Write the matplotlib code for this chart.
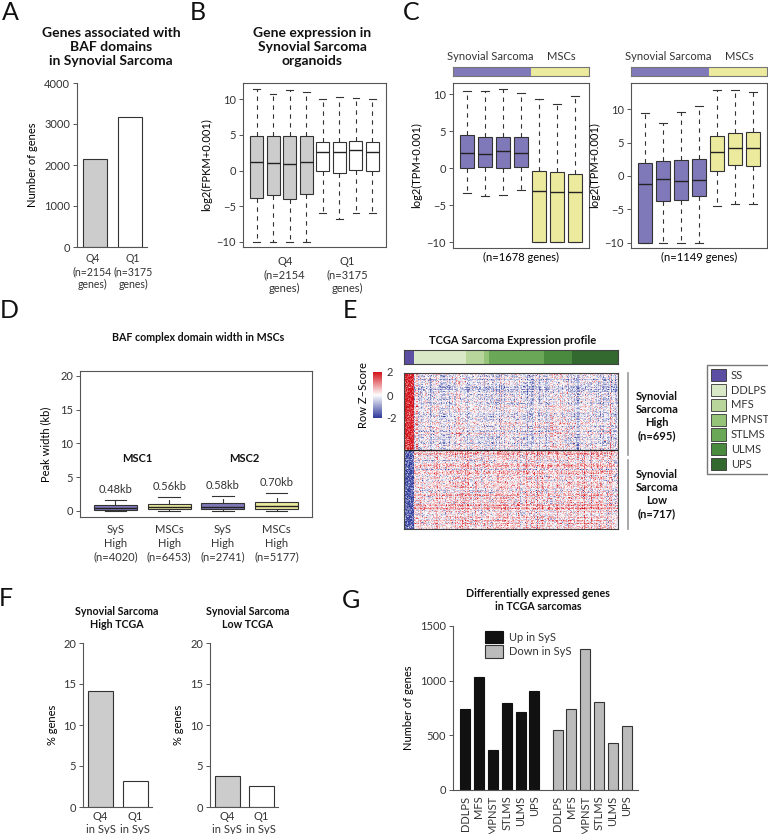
import numpy as np
import matplotlib
matplotlib.use("Agg")
import matplotlib.pyplot as plt
from matplotlib.colors import LinearSegmentedColormap, ListedColormap
from matplotlib.patches import Patch

plt.rcParams['font.family'] = ['Lato', 'DejaVu Sans']
plt.rcParams['text.color'] = '#333333'
plt.rcParams['axes.edgecolor'] = '#555555'
plt.rcParams['xtick.color'] = '#555555'
plt.rcParams['ytick.color'] = '#555555'
plt.rcParams['xtick.labelcolor'] = '#333333'
plt.rcParams['ytick.labelcolor'] = '#333333'
plt.rcParams['xtick.labelsize'] = 8
plt.rcParams['ytick.labelsize'] = 8
plt.rcParams['axes.linewidth'] = 0.8

W, H = 768, 834
FS = 8       # normal text
FT = 10      # big bold titles
FT2 = 7.7    # small bold titles

# ---- data ----
# A
a_labels = ["Q4\n(n=2154\ngenes)", "Q1\n(n=3175\ngenes)"]
a_counts = [2154, 3175]

# B (boxplot stats, 4 Q4 + 4 Q1 organoid samples)
b_whislo = [-10, -10, -10, -10, -6.0, -6.8, -5.9, -5.9]
b_q1 = [-3.9, -3.45, -4.0, -3.3, -0.05, -0.3, 0.1, -0.05]
b_med = [1.15, 1.05, 0.95, 1.15, 2.65, 2.65, 2.85, 2.65]
b_q3 = [4.85, 4.85, 4.85, 4.85, 3.95, 4.05, 4.15, 3.95]
b_whishi = [11.4, 10.75, 11.3, 11.05, 10.0, 10.35, 10.15, 10.0]

# C left (n=1678 genes)
c1_whislo = [-3.3, -3.75, -3.6, -2.95, -10, -10, -10]
c1_q1 = [0.0, 0.15, 0.0, 0.15, -10, -10, -10]
c1_med = [2.05, 1.95, 2.3, 2.05, -3.0, -3.25, -3.25]
c1_q3 = [4.45, 4.3, 4.3, 4.3, -0.4, -0.5, -0.7]
c1_whishi = [10.5, 10.5, 10.7, 10.2, 9.45, 8.75, 9.8]

# C right (n=1149 genes)
c2_whislo = [-10, -10, -10, -10, -4.5, -4.2, -4.2]
c2_q1 = [-10, -3.75, -3.65, -3.0, 0.75, 1.7, 1.55]
c2_med = [-1.25, -0.4, -0.8, -0.6, 3.55, 4.15, 4.15]
c2_q3 = [1.9, 2.2, 2.35, 2.5, 5.95, 6.4, 6.6]
c2_whishi = [9.5, 7.9, 9.65, 10.5, 12.9, 12.9, 12.55]
c_groups = ["Synovial Sarcoma", "MSCs"]
c_group_sizes = [4, 3]

# D
d_labels = ["SyS\nHigh\n(n=4020)", "MSCs\nHigh\n(n=6453)", "SyS\nHigh\n(n=2741)", "MSCs\nHigh\n(n=5177)"]
d_whislo = [0.02, 0.02, 0.02, 0.02]
d_q1 = [0.22, 0.25, 0.25, 0.25]
d_med = [0.48, 0.56, 0.58, 0.70]
d_q3 = [0.9, 1.1, 1.15, 1.4]
d_whishi = [1.6, 2.1, 2.2, 2.7]
d_msc = ["MSC1", "MSC2"]

# E
e_types = ["SS", "DDLPS", "MFS", "MPNST", "STLMS", "ULMS", "UPS"]
e_samples = [10, 50, 17, 5, 53, 27, 44]
e_colors = ["#5b4ea3", "#d9e8c6", "#b8d69c", "#95c378", "#6aa858", "#4a8a3f", "#33692e"]
e_rows = [695, 717]          # genes SyS High / SyS Low
e_ss_mean = [1.8, -1.6]      # row z-score of SS columns in each block
e_other_mean = [-0.25, 0.3]  # row z-score of the other sarcomas

# F
f_labels = ["Q4\nin SyS", "Q1\nin SyS"]
f_high = [14.15, 3.2]
f_low = [3.77, 2.56]

# G
g_types = ["DDLPS", "MFS", "MPNST", "STLMS", "ULMS", "UPS"]
g_up = [738, 1030, 363, 799, 713, 908]
g_down = [546, 738, 1287, 802, 430, 582]

purple = "#8079b9"
yellow = "#ecea9c"
grey = "#cccccc"
edge = "#333333"

fig = plt.figure(figsize=(W / 100, H / 100), dpi=100)


def pos(l, t, r, b):
    return [l / W, 1 - b / H, (r - l) / W, (b - t) / H]


def ftext(x, y, s, **kw):
    kw.setdefault("ha", "center")
    kw.setdefault("va", "center")
    fig.text(x / W, 1 - y / H, s, **kw)


def boxes(ax, lo, q1, med, q3, hi, colors):
    st = [dict(whislo=a, q1=b, med=c, q3=d, whishi=e, fliers=[])
          for a, b, c, d, e in zip(lo, q1, med, q3, hi)]
    n = len(st)
    art = ax.bxp(st, positions=np.arange(1, n + 1), widths=0.8, patch_artist=True,
                 showfliers=False, capwidths=0.4,
                 boxprops=dict(edgecolor=edge, linewidth=0.8),
                 medianprops=dict(color="#222222", linewidth=1.0),
                 whiskerprops=dict(color=edge, linewidth=0.8, linestyle=(0, (4, 4))),
                 capprops=dict(color=edge, linewidth=0.8))
    for p, c in zip(art["boxes"], colors):
        p.set_facecolor(c)
    ax.set_xlim(0.5 - 0.04 * n, n + 0.5 + 0.04 * n)
    ax.set_xticks([])
    ax.tick_params(axis="y", length=3, width=0.7, pad=2)


# panel letters
for letter, x, y in [("A", 10, 13), ("B", 198, 13), ("C", 411, 13), ("D", 9, 310),
                     ("E", 350, 310), ("F", 6, 599), ("G", 351, 600)]:
    ftext(x, y, letter, fontsize=18, color="#111111")

# ---- A ----
ax = fig.add_axes(pos(77, 83, 147, 247))
ax.bar([0, 1], a_counts, width=0.686, color=[grey, "white"], edgecolor=edge, linewidth=0.8)
ax.set_xlim(-0.514, 1.486)
ax.set_ylim(0, 4000)
ax.set_yticks([0, 1000, 2000, 3000, 4000])
ax.set_xticks([-0.07, 1.09])
ax.set_xticklabels(a_labels, fontsize=7.6, linespacing=1.25)
ax.tick_params(axis="x", length=0, pad=4)
ax.tick_params(axis="y", length=3, width=0.7, pad=2)
for s in ["top", "right"]:
    ax.spines[s].set_visible(False)
ax.set_ylabel("Number of genes", fontsize=FS, labelpad=4)
ftext(111, 47, "Genes associated with\nBAF domains\nin Synovial Sarcoma", fontsize=FT,
      fontweight="bold", color="#111111", linespacing=1.2)

# ---- B ----
ax = fig.add_axes(pos(243, 83, 386, 247))
boxes(ax, b_whislo, b_q1, b_med, b_q3, b_whishi, [grey] * 4 + ["white"] * 4)
ax.set_ylim(-10.7, 12.24)
ax.set_yticks([-10, -5, 0, 5, 10])
ax.set_ylabel("log2(FPKM+0.001)", fontsize=FS, labelpad=3)
ax.text(2.7, -12.0, "Q4\n(n=2154\ngenes)", ha="center", va="top", fontsize=FS, linespacing=1.25)
ax.text(6.5, -12.0, "Q1\n(n=3175\ngenes)", ha="center", va="top", fontsize=FS, linespacing=1.25)
ftext(312, 47, "Gene expression in\nSynovial Sarcoma\norganoids", fontsize=FT,
      fontweight="bold", color="#111111", linespacing=1.2)

# ---- C ----
c_colors = [purple] * c_group_sizes[0] + [yellow] * c_group_sizes[1]
for (l, r, lo, q1, med, q3, hi, yl, ntxt) in [
        (453, 589, c1_whislo, c1_q1, c1_med, c1_q3, c1_whishi, (-10.77, 11.55), "(n=1678 genes)"),
        (631, 767, c2_whislo, c2_q1, c2_med, c2_q3, c2_whishi, (-10.8, 13.94), "(n=1149 genes)")]:
    ax = fig.add_axes(pos(l, 83, r, 248))
    boxes(ax, lo, q1, med, q3, hi, c_colors)
    ax.set_ylim(*yl)
    ax.set_yticks([-10, -5, 0, 5, 10])
    ax.set_ylabel("log2(TPM+0.001)", fontsize=FS, labelpad=3)
    ax.set_xlabel(ntxt, fontsize=FS, labelpad=3)
    # group bar
    bar = fig.add_axes(pos(l, 67, r, 76))
    bar.barh(0, c_group_sizes[0], left=0, height=1, color=purple, edgecolor="none")
    bar.barh(0, c_group_sizes[1], left=c_group_sizes[0], height=1, color=yellow, edgecolor="none")
    bar.set_xlim(0, sum(c_group_sizes))
    bar.set_ylim(-0.5, 0.5)
    bar.set_xticks([])
    bar.set_yticks([])
    for s in bar.spines.values():
        s.set_color("#777777")
        s.set_linewidth(0.8)
    bar.text(c_group_sizes[0] / 2 - 0.1, 1.0, c_groups[0], ha="center", va="bottom", fontsize=FS)
    bar.text(c_group_sizes[0] + c_group_sizes[1] / 2 + 0.1, 1.0, c_groups[1], ha="center", va="bottom", fontsize=FS)

# ---- D ----
ax = fig.add_axes(pos(80, 371, 312, 517))
boxes(ax, d_whislo, d_q1, d_med, d_q3, d_whishi, [purple, yellow, purple, yellow])
ax.set_ylim(-0.89, 20.74)
ax.set_yticks([0, 5, 10, 15, 20])
ax.set_ylabel("Peak width (kb)", fontsize=FS, labelpad=6)
for i in range(4):
    ax.text(i + 1, d_whishi[i] + 0.7, "%.2fkb" % d_med[i], ha="center", va="bottom", fontsize=FS)
    ax.text(i + 1, -2.0, d_labels[i], ha="center", va="top", fontsize=FS, linespacing=1.25)
ax.text(1.4, 7.8, d_msc[0], ha="center", va="center", fontsize=FS, fontweight="bold", color="#111111")
ax.text(3.4, 7.8, d_msc[1], ha="center", va="center", fontsize=FS, fontweight="bold", color="#111111")
ftext(198, 338, "BAF complex domain width in MSCs", fontsize=FT2, fontweight="bold", color="#111111")

# ---- E ----
# per-gene values cannot be read off the picture; the block levels above give the
# structure and a fixed-seed texture stands in for gene-to-gene variation
n_cols = sum(e_samples)
ss_n = e_samples[0]
rng = np.random.default_rng(11)
blocks = []
for k, nr in enumerate(e_rows):
    nr = nr // 6
    row_eff = rng.normal(e_other_mean[k], 0.3, size=(nr, 1))
    col_eff = rng.normal(0, 0.3, size=(1, n_cols - ss_n))
    other = row_eff + col_eff + rng.normal(0, 0.42, size=(nr, n_cols - ss_n))
    ss = rng.normal(e_ss_mean[k], 0.45, size=(nr, ss_n))
    blocks.append(np.hstack([ss, other]))
zmat = np.clip(np.vstack(blocks), -2, 2)
hm_cmap = LinearSegmentedColormap.from_list("rwb", ["#2f3a9a", "#ffffff", "#d4141c"])

ax = fig.add_axes(pos(404, 373, 618, 529))
ax.imshow(zmat, aspect="auto", cmap=hm_cmap, vmin=-2, vmax=2, interpolation="nearest")
ax.axhline(blocks[0].shape[0] - 0.5, color="#222222", linewidth=0.9)
ax.set_xticks([])
ax.set_yticks([])
for s in ax.spines.values():
    s.set_color("#444444")
    s.set_linewidth(0.8)

# annotation bar
bar = fig.add_axes(pos(404, 350, 618, 364))
cls = np.repeat(np.arange(len(e_types)), e_samples)[None, :]
bar.imshow(cls, aspect="auto", cmap=ListedColormap(e_colors), interpolation="nearest")
bar.set_xticks([])
bar.set_yticks([])
for s in bar.spines.values():
    s.set_color("#444444")
    s.set_linewidth(0.8)
ftext(513, 340, "TCGA Sarcoma Expression profile", fontsize=8, fontweight="bold", color="#111111")

# colour key
cax = fig.add_axes(pos(373, 372, 382, 418))
cax.imshow(np.linspace(2, -2, 100)[:, None], aspect="auto", cmap=hm_cmap, vmin=-2, vmax=2,
           extent=[0, 1, -2, 2])
cax.set_xticks([])
cax.yaxis.tick_right()
cax.set_yticks([-2, 0, 2])
cax.set_yticklabels(["-2", "0", "2"])
cax.tick_params(axis="y", length=0, pad=3, labelsize=FS)
for s in cax.spines.values():
    s.set_visible(False)
cax.set_ylabel("Row Z\u2013Score", fontsize=FS, labelpad=3)

# side brackets
for (t, b, txt, yc) in [(373, 455, "Synovial\nSarcoma\nHigh\n(n=695)", 416),
                        (460, 529, "Synovial\nSarcoma\nLow\n(n=717)", 494)]:
    fig.add_artist(plt.Line2D([628 / W, 628 / W], [1 - t / H, 1 - b / H], color="#999999", linewidth=1.2))
    ftext(657, yc, txt, fontsize=FS, fontweight="bold", color="#111111", linespacing=1.25)

handles = [Patch(facecolor=c, edgecolor="#333333", linewidth=0.6) for c in e_colors]
fig.legend(handles, e_types, loc="upper left", bbox_to_anchor=(707 / W, 1 - 365 / H),
           fontsize=FS, frameon=True, fancybox=False, edgecolor="#777777", framealpha=1,
           handlelength=1.4, handleheight=1.3, handletextpad=0.4, labelspacing=0.25,
           borderpad=0.35, borderaxespad=0)

# ---- F ----
for (l, r, vals, title, tx) in [(83, 152, f_high, "Synovial Sarcoma\nHigh TCGA", 117),
                                (210, 278, f_low, "Synovial Sarcoma\nLow TCGA", 248)]:
    ax = fig.add_axes(pos(l, 643, r, 807))
    ax.bar([0, 1], vals, width=0.72, color=[grey, "white"], edgecolor=edge, linewidth=0.8)
    ax.set_xlim(-0.51, 1.49)
    ax.set_ylim(0, 20)
    ax.set_yticks([0, 5, 10, 15, 20])
    ax.set_xticks([0, 1])
    ax.set_xticklabels(f_labels, fontsize=FS, linespacing=1.2)
    ax.tick_params(axis="x", length=0, pad=3)
    ax.tick_params(axis="y", length=3, width=0.7, pad=2)
    for s in ["top", "right"]:
        ax.spines[s].set_visible(False)
    ax.set_ylabel("% genes", fontsize=FS, labelpad=4)
    ftext(tx, 618, title, fontsize=FT2, fontweight="bold", color="#111111", linespacing=1.25)

# ---- G ----
ax = fig.add_axes(pos(453, 626, 638, 790))
xu = np.arange(len(g_types))
xd = xu + len(g_types) + 0.67
ax.bar(xu, g_up, width=0.72, color="#111111", edgecolor="#111111", linewidth=0.8, label="Up in SyS")
ax.bar(xd, g_down, width=0.72, color="#bbbbbb", edgecolor=edge, linewidth=0.8, label="Down in SyS")
ax.set_xlim(-0.87, 12.47)
ax.set_ylim(0, 1500)
ax.set_yticks([0, 500, 1000, 1500])
ax.set_xticks(np.concatenate([xu, xd]))
ax.set_xticklabels(g_types + g_types, rotation=90, fontsize=FS)
ax.tick_params(axis="x", length=0, pad=4)
ax.tick_params(axis="y", length=3, width=0.7, pad=2)
for s in ["top", "right"]:
    ax.spines[s].set_visible(False)
ax.set_ylabel("Number of genes", fontsize=FS, labelpad=4)
ax.legend(loc="upper left", bbox_to_anchor=(0.12, 1.03), frameon=False, fontsize=FS,
          handlelength=1.6, handleheight=1.3, handletextpad=0.5, labelspacing=0.2)
ftext(538, 600, "Differentially expressed genes\nin TCGA sarcomas", fontsize=FT2,
      fontweight="bold", color="#111111", linespacing=1.25)

fig.savefig("out.png", dpi=100)
